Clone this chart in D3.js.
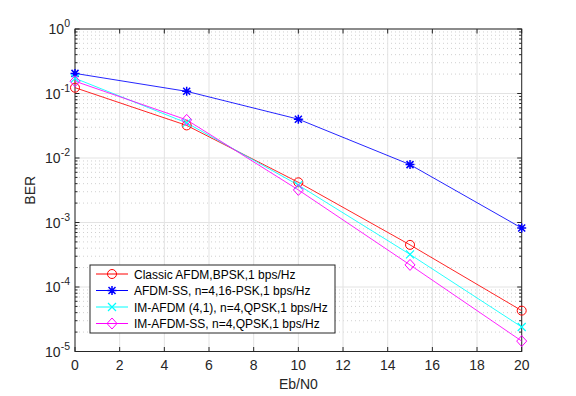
<!DOCTYPE html>
<html><head><meta charset="utf-8">
<script src="https://d3js.org/d3.v7.min.js"></script>
<style>body{margin:0;background:#fff;} text{font-family:"Liberation Sans",Arial,sans-serif;}</style>
</head><body>
<script>
const snr = [0, 5, 10, 15, 20];
const classic = [0.123, 0.032, 0.0042, 4.5e-4, 4.3e-5];
const afdmSS = [0.205, 0.108, 0.040, 0.0079, 8.2e-4];
const imAfdm = [0.172, 0.035, 0.0038, 3.2e-4, 2.4e-5];
const imAfdmSS = [0.155, 0.039, 0.0032, 2.2e-4, 1.45e-5];
const seriesNames = ["Classic AFDM,BPSK,1 bps/Hz","AFDM-SS, n=4,16-PSK,1 bps/Hz","IM-AFDM (4,1), n=4,QPSK,1 bps/Hz","IM-AFDM-SS, n=4,QPSK,1 bps/Hz"];
const seriesColors = ["#ff0000","#0000ff","#00ffff","#ff00ff"];
const seriesMarkers = ["circle","star","x","diamond"];
const xTicks = [0,2,4,6,8,10,12,14,16,18,20];
const yExps = [0,-1,-2,-3,-4,-5];

const W=576,H=396, L=75, R=521.7, T=29, B=351.5;
const svg=d3.select("body").append("svg").attr("width",W).attr("height",H);
const x=d3.scaleLinear().domain([0,20]).range([L,R]);
const y=d3.scaleLog().domain([1e-5,1]).range([B,T]);
const g=svg.append("g");
// minor grid
for(let e=-5;e<0;e++){for(let m=2;m<=9;m++){const v=m*Math.pow(10,e);
 g.append("line").attr("x1",L).attr("x2",R).attr("y1",y(v)).attr("y2",y(v)).attr("stroke","#d0d0d0").attr("stroke-width",1).attr("stroke-dasharray","1,3");}}
// major grid
xTicks.forEach(t=>{g.append("line").attr("x1",x(t)).attr("x2",x(t)).attr("y1",T).attr("y2",B).attr("stroke","#e3e3e3").attr("stroke-width",1);});
yExps.forEach(e=>{g.append("line").attr("x1",L).attr("x2",R).attr("y1",y(Math.pow(10,e))).attr("y2",y(Math.pow(10,e))).attr("stroke","#e3e3e3").attr("stroke-width",1);});
// box
g.append("rect").attr("x",L).attr("y",T).attr("width",R-L).attr("height",B-T).attr("fill","none").attr("stroke","#262626").attr("stroke-width",1);
// ticks
xTicks.forEach(t=>{
 g.append("line").attr("x1",x(t)).attr("x2",x(t)).attr("y1",B).attr("y2",B-4.5).attr("stroke","#262626");
 g.append("line").attr("x1",x(t)).attr("x2",x(t)).attr("y1",T).attr("y2",T+4.5).attr("stroke","#262626");
 g.append("text").attr("x",x(t)).attr("y",B+18.5).attr("text-anchor","middle").attr("font-size",14).attr("fill","#262626").text(t);
});
yExps.forEach(e=>{const yy=y(Math.pow(10,e));
 g.append("line").attr("x1",L).attr("x2",L+4.5).attr("y1",yy).attr("y2",yy).attr("stroke","#262626");
 g.append("line").attr("x1",R).attr("x2",R-4.5).attr("y1",yy).attr("y2",yy).attr("stroke","#262626");
 const t=g.append("text").attr("x",L-5).attr("y",yy+5).attr("text-anchor","end").attr("font-size",14).attr("fill","#262626");
 t.append("tspan").text("10");
 t.append("tspan").attr("dy",-7).attr("font-size",10.5).text(e);
});
for(let e=-5;e<0;e++){for(let m=2;m<=9;m++){const yy=y(m*Math.pow(10,e));
 g.append("line").attr("x1",L).attr("x2",L+2.5).attr("y1",yy).attr("y2",yy).attr("stroke","#262626");
 g.append("line").attr("x1",R).attr("x2",R-2.5).attr("y1",yy).attr("y2",yy).attr("stroke","#262626");}}
svg.append("text").attr("x",(L+R)/2).attr("y",B+37).attr("text-anchor","middle").attr("font-size",14).attr("fill","#262626").text("Eb/N0");
svg.append("text").attr("transform",`translate(${L-40},${(T+B)/2}) rotate(-90)`).attr("text-anchor","middle").attr("font-size",14).attr("fill","#262626").text("BER");

function marker(sel,type,cx,cy,col){
 if(type==="circle") sel.append("circle").attr("cx",cx).attr("cy",cy).attr("r",4.5).attr("fill","none").attr("stroke",col).attr("stroke-width",1);
 else if(type==="diamond") sel.append("path").attr("d",`M${cx},${cy-5.5}L${cx+5},${cy}L${cx},${cy+5.5}L${cx-5},${cy}Z`).attr("fill","none").attr("stroke",col).attr("stroke-width",1);
 else if(type==="x") sel.append("path").attr("d",`M${cx-4},${cy-4}L${cx+4},${cy+4}M${cx-4},${cy+4}L${cx+4},${cy-4}`).attr("stroke",col).attr("stroke-width",1.2);
 else if(type==="star") sel.append("path").attr("d",`M${cx-4.5},${cy}L${cx+4.5},${cy}M${cx},${cy-4.5}L${cx},${cy+4.5}M${cx-3.5},${cy-3.5}L${cx+3.5},${cy+3.5}M${cx-3.5},${cy+3.5}L${cx+3.5},${cy-3.5}`).attr("stroke",col).attr("stroke-width",1.5);
}
const allData=[classic,afdmSS,imAfdm,imAfdmSS];
const line=d3.line().x((d,i)=>x(snr[i])).y(d=>y(d));
allData.forEach((ds,k)=>{
 svg.append("path").datum(ds).attr("d",line).attr("fill","none").attr("stroke",seriesColors[k]).attr("stroke-width",1).attr("opacity",0.85);
});
allData.forEach((ds,k)=>{ds.forEach((v,i)=>marker(svg,seriesMarkers[k],x(snr[i]),y(v),seriesColors[k]));});

// legend
const lx=90, ly=265, lw=245, lh=68;
svg.append("rect").attr("x",lx).attr("y",ly).attr("width",lw).attr("height",lh).attr("fill","#fff").attr("stroke","#262626").attr("stroke-width",1);
seriesNames.forEach((n,k)=>{const yy=ly+9+k*16.5;
 svg.append("line").attr("x1",lx+6).attr("x2",lx+38).attr("y1",yy).attr("y2",yy).attr("stroke",seriesColors[k]).attr("stroke-width",1);
 marker(svg,seriesMarkers[k],lx+22,yy,seriesColors[k]);
 svg.append("text").attr("x",lx+44).attr("y",yy+4.5).attr("font-size",12).attr("fill","#000").text(n);
});
</script>
</body></html>
